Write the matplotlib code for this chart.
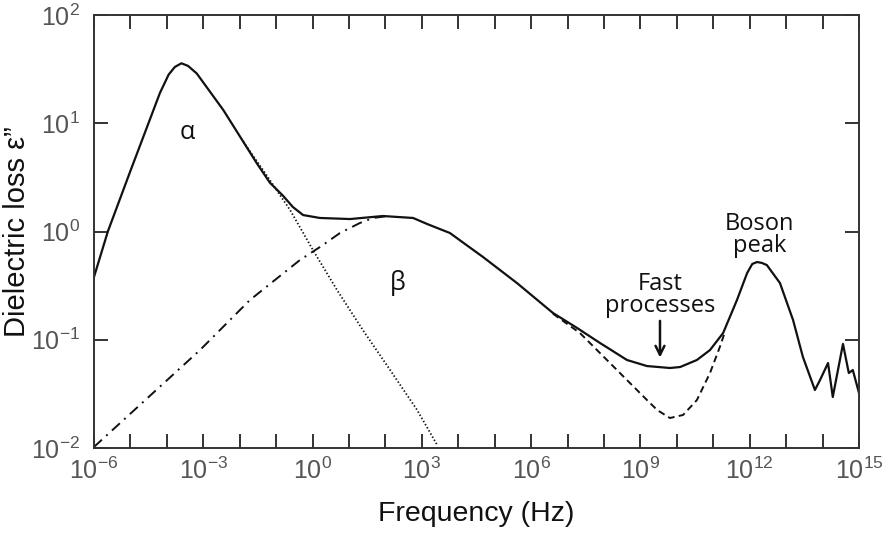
import numpy as np
import matplotlib

matplotlib.use("Agg")
import matplotlib.pyplot as plt
from matplotlib.ticker import FixedLocator, FuncFormatter, NullLocator

# values, as log10(frequency / Hz) and log10(loss)
total_logf = [-6.0, -5.62, -5.0, -4.46, -4.19, -3.95, -3.78, -3.6, -3.42, -3.18,
              -2.45, -1.9, -1.53, -1.17, -0.81, -0.54, -0.26, 0.2, 1.03, 1.93,
              2.76, 3.14, 3.77, 4.68, 5.61, 6.6, 7.26, 7.89, 8.08, 8.63, 9.18, 9.81,
              10.09, 10.55, 10.91, 11.27, 11.65, 11.93, 12.07, 12.2, 12.33, 12.47,
              12.83, 13.19, 13.46, 13.79, 13.93, 14.15, 14.28, 14.56, 14.72, 14.83, 15.0]
total_loge = [-0.42, 0.0, 0.56, 1.04, 1.28, 1.45, 1.52, 1.554, 1.53, 1.46,
              1.122, 0.828, 0.63, 0.45, 0.33, 0.226, 0.152, 0.125, 0.115, 0.143,
              0.125, 0.07, -0.014, -0.236, -0.476, -0.753, -0.891, -1.03, -1.07, -1.187, -1.243, -1.261,
              -1.252, -1.187, -1.095, -0.938, -0.633, -0.383, -0.3, -0.282, -0.29, -0.31,
              -0.476, -0.818, -1.159, -1.464, -1.372, -1.215, -1.529, -1.039, -1.307, -1.28, -1.492]

alpha_logf = [-1.9, -1.36, -0.62, 0.01, 0.67, 1.38, 2.13, 2.87, 3.42]
alpha_loge = [0.828, 0.568, 0.2, -0.171, -0.54, -0.91, -1.28, -1.649, -1.972]

beta_logf = [-6.0, -3.09, -1.72, -0.345, 0.204, 0.753, 1.302, 1.66, 2.0]
beta_loge = [-1.99, -1.095, -0.633, -0.263, -0.143, -0.014, 0.079, 0.125, 0.14]

nofast_logf = [6.6, 7.34, 8.08, 8.63, 9.18, 9.46, 9.81, 10.17, 10.55, 10.91, 11.18, 11.32]
nofast_loge = [-0.76, -0.938, -1.187, -1.372, -1.557, -1.649, -1.723, -1.695, -1.557,
               -1.307, -1.067, -0.928]

x_decades = list(range(-6, 16))
x_labelled = [-6, -3, 0, 3, 6, 9, 12, 15]
y_decades = [-2, -1, 0, 1, 2]

INK = "#111111"
TICK_GREY = "#555555"
ANNOT = ["Open Sans", "DejaVu Sans"]
LABEL = ["Liberation Sans", "DejaVu Sans"]


def pw(logs):
    return np.power(10.0, np.asarray(logs, dtype=float))


fig = plt.figure(figsize=(8.83, 5.33), dpi=100)
ax = fig.add_axes([94 / 883, 85 / 533, 765 / 883, 433 / 533])

ax.plot(pw(total_logf), pw(total_loge), color=INK, lw=1.6, solid_joinstyle="round")
ax.plot(pw(alpha_logf), pw(alpha_loge), color=INK, lw=1.3, ls=(0, (0.8, 1.2)))
ax.plot(pw(beta_logf), pw(beta_loge), color=INK, lw=1.4, ls=(0, (5.5, 3, 1, 3)))
ax.plot(pw(nofast_logf), pw(nofast_loge), color=INK, lw=1.4, ls=(0, (3.5, 2.2)))

ax.set_xscale("log")
ax.set_yscale("log")
ax.set_xlim(1e-6, 1e15)
ax.set_ylim(1e-2, 1e2)

ax.xaxis.set_major_locator(FixedLocator(pw(x_decades)))
ax.xaxis.set_minor_locator(NullLocator())
ax.yaxis.set_major_locator(FixedLocator(pw(y_decades)))
ax.yaxis.set_minor_locator(NullLocator())


def decade_label(v, _pos, keep=None):
    e = int(round(np.log10(v)))
    if keep is not None and e not in keep:
        return ""
    return r"$\mathregular{10^{%d}}$" % e


ax.xaxis.set_major_formatter(FuncFormatter(lambda v, p: decade_label(v, p, x_labelled)))
ax.yaxis.set_major_formatter(FuncFormatter(decade_label))

ax.tick_params(which="major", direction="in", length=10, width=1.4, color="#333333",
               top=True, right=True, labelcolor=TICK_GREY, labelsize=18)
ax.tick_params(axis="x", pad=7)
ax.tick_params(axis="y", pad=10)
for lab in ax.get_xticklabels() + ax.get_yticklabels():
    lab.set_family(LABEL)
for sp in ax.spines.values():
    sp.set_linewidth(1.4)
    sp.set_color("#333333")

ax.set_xlabel("Frequency (Hz)", fontsize=20.5, family=LABEL, color=INK, labelpad=12)
ax.set_ylabel("Dielectric loss ε”", fontsize=21, family=LABEL, color=INK)
ax.yaxis.set_label_coords(-0.083, 0.5)

ax.text(10 ** -3.447, 10 ** 0.91, "α", fontsize=18, family=ANNOT, ha="center", va="center", color=INK)
ax.text(10 ** 2.345, 10 ** -0.476, "β", fontsize=18, family=ANNOT, ha="center", va="center", color=INK)

# multi-line text with va="baseline" sits on the baseline of its last line
ax.text(10 ** 9.537, 10 ** -0.744, "Fast\nprocesses", fontsize=17, family=ANNOT,
        ha="center", va="baseline", multialignment="center", linespacing=0.9, color=INK)
ax.annotate("", xy=(10 ** 9.537, 10 ** -1.19), xytext=(10 ** 9.537, 10 ** -0.80),
            arrowprops=dict(arrowstyle="->", lw=1.8, color=INK, mutation_scale=16))

ax.text(10 ** 12.27, 10 ** -0.189, "Boson\npeak", fontsize=17, family=ANNOT,
        ha="center", va="baseline", multialignment="center", linespacing=0.9, color=INK)

fig.savefig("out.png", dpi=100)
